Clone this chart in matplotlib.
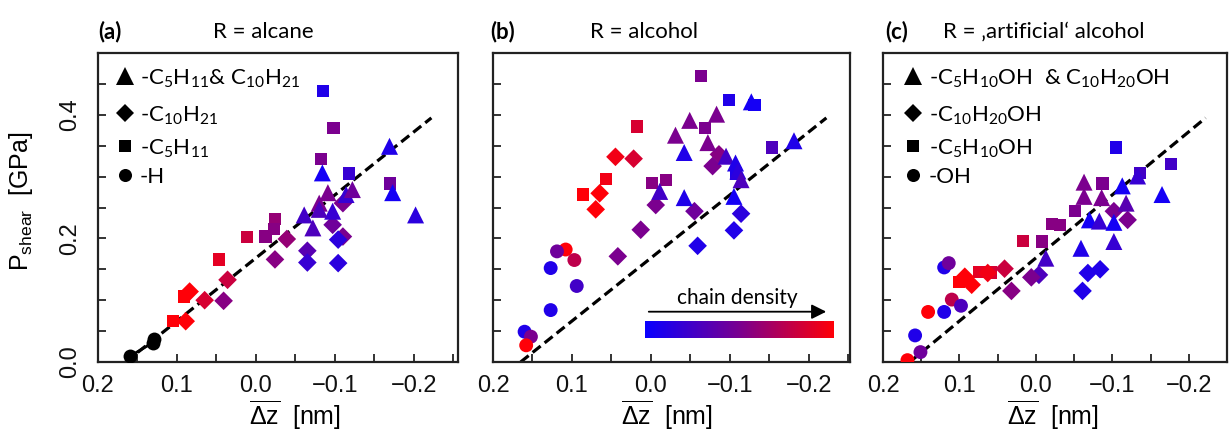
import numpy as np
import matplotlib
matplotlib.use('Agg')
import matplotlib.pyplot as plt
from matplotlib.colors import LinearSegmentedColormap

plt.rcParams['font.family'] = ['Liberation Sans', 'DejaVu Sans']
plt.rcParams['mathtext.fontset'] = 'custom'
plt.rcParams['mathtext.rm'] = 'Liberation Sans'
plt.rcParams['mathtext.sf'] = 'Lato'

# ---- data: x = mean dz [nm], y = P_shear [GPa], c = chain density (0 blue .. 1 red)
# panel (a): R = alcane
a_tri_x = [-0.169, -0.084, -0.173, -0.202, -0.061, -0.072, -0.080, -0.091, -0.097, -0.114, -0.122, -0.080]
a_tri_y = [0.349, 0.306, 0.274, 0.238, 0.238, 0.217, 0.257, 0.274, 0.244, 0.271, 0.279, 0.247]
a_tri_c = [0.10, 0.05, 0.05, 0.15, 0.25, 0.30, 0.50, 0.50, 0.20, 0.20, 0.45, 0.30]
a_dia_x = [-0.097, -0.110, -0.104, -0.065, -0.065, -0.104, -0.024, -0.039, 0.036, 0.065, 0.041, 0.089, 0.084, -0.110]
a_dia_y = [0.222, 0.203, 0.198, 0.180, 0.161, 0.160, 0.166, 0.199, 0.133, 0.100, 0.099, 0.066, 0.114, 0.257]
a_dia_c = [0.45, 0.50, 0.15, 0.35, 0.20, 0.15, 0.55, 0.60, 0.80, 0.85, 0.55, 1.00, 1.00, 0.50]
a_sq_x = [-0.085, -0.098, -0.082, -0.118, -0.170, -0.024, -0.023, -0.012, 0.011, 0.047, 0.105, 0.091]
a_sq_y = [0.439, 0.379, 0.328, 0.305, 0.289, 0.231, 0.215, 0.203, 0.202, 0.166, 0.066, 0.106]
a_sq_c = [0.10, 0.50, 0.50, 0.20, 0.45, 0.60, 0.55, 0.55, 0.80, 0.90, 1.00, 1.00]
a_circ_x = [0.160, 0.131, 0.129]
a_circ_y = [0.009, 0.031, 0.038]

# panel (b): R = alcohol
b_tri_x = [-0.127, -0.049, -0.083, -0.031, -0.072, -0.181, -0.042, -0.095, -0.107, -0.110, -0.114, -0.011, -0.042, -0.105]
b_tri_y = [0.421, 0.391, 0.401, 0.367, 0.355, 0.358, 0.339, 0.333, 0.322, 0.309, 0.295, 0.276, 0.266, 0.268]
b_tri_c = [0.05, 0.50, 0.50, 0.50, 0.50, 0.10, 0.10, 0.25, 0.10, 0.15, 0.30, 0.25, 0.10, 0.05]
b_dia_x = [0.045, 0.022, 0.065, 0.070, -0.086, -0.078, -0.006, -0.055, 0.013, -0.114, -0.105, -0.059, 0.042]
b_dia_y = [0.332, 0.329, 0.273, 0.247, 0.336, 0.317, 0.254, 0.244, 0.214, 0.240, 0.213, 0.188, 0.171]
b_dia_c = [0.95, 0.85, 1.00, 1.00, 0.55, 0.50, 0.50, 0.45, 0.50, 0.15, 0.10, 0.10, 0.50]
b_sq_x = [-0.063, -0.099, -0.131, 0.018, -0.068, -0.153, 0.057, 0.086, -0.001, -0.019, -0.108]
b_sq_y = [0.463, 0.424, 0.416, 0.381, 0.379, 0.347, 0.296, 0.271, 0.290, 0.295, 0.305]
b_sq_c = [0.50, 0.10, 0.05, 0.85, 0.50, 0.30, 0.95, 1.00, 0.55, 0.55, 0.10]
b_circ_x = [0.108, 0.119, 0.097, 0.127, 0.094, 0.127, 0.160, 0.152, 0.158]
b_circ_y = [0.182, 0.179, 0.165, 0.152, 0.123, 0.084, 0.049, 0.041, 0.027]
b_circ_c = [1.00, 0.45, 0.75, 0.10, 0.25, 0.10, 0.10, 0.50, 1.00]

# panel (c): R = 'artificial' alcohol
c_tri_x = [-0.063, -0.063, -0.086, -0.113, -0.165, -0.118, -0.133, -0.070, -0.083, -0.102, -0.102, -0.059, -0.013]
c_tri_y = [0.291, 0.268, 0.266, 0.285, 0.271, 0.257, 0.301, 0.230, 0.228, 0.226, 0.195, 0.184, 0.168]
c_tri_c = [0.50, 0.50, 0.50, 0.05, 0.05, 0.35, 0.20, 0.05, 0.20, 0.05, 0.20, 0.10, 0.25]
c_dia_x = [-0.102, -0.120, -0.068, -0.084, -0.061, -0.004, 0.006, 0.041, 0.032, 0.084, 0.093, 0.063]
c_dia_y = [0.244, 0.230, 0.144, 0.150, 0.115, 0.141, 0.137, 0.151, 0.115, 0.125, 0.138, 0.144]
c_dia_c = [0.50, 0.50, 0.10, 0.10, 0.10, 0.30, 0.50, 0.80, 0.55, 1.00, 1.00, 0.95]
c_sq_x = [-0.105, -0.177, -0.136, -0.087, -0.051, -0.032, -0.021, 0.017, -0.008, 0.101, 0.074, 0.059]
c_sq_y = [0.347, 0.320, 0.306, 0.289, 0.244, 0.222, 0.223, 0.196, 0.195, 0.130, 0.146, 0.145]
c_sq_c = [0.10, 0.25, 0.25, 0.50, 0.50, 0.55, 0.55, 0.80, 0.55, 1.00, 0.90, 0.85]
c_circ_x = [0.120, 0.114, 0.110, 0.120, 0.098, 0.141, 0.158, 0.151, 0.168]
c_circ_y = [0.153, 0.160, 0.101, 0.081, 0.091, 0.081, 0.043, 0.016, 0.003]
c_circ_c = [0.10, 0.45, 0.75, 0.10, 0.30, 1.00, 0.10, 0.45, 1.00]

# dashed guide line (end points)
guide_x = [0.165, -0.222]
guide_y = [0.0, 0.395]

titles = ['R = alcane', 'R = alcohol', 'R = \u201aartificial\u2018 alcohol']
letters = ['(a)', '(b)', '(c)']
legend_a = ['-C$_\\mathsf{5}$H$_\\mathsf{11}$& C$_\\mathsf{10}$H$_\\mathsf{21}$',
            '-C$_\\mathsf{10}$H$_\\mathsf{21}$',
            '-C$_\\mathsf{5}$H$_\\mathsf{11}$',
            '-H']
legend_c = ['-C$_\\mathsf{5}$H$_\\mathsf{10}$OH  & C$_\\mathsf{10}$H$_\\mathsf{20}$OH',
            '-C$_\\mathsf{10}$H$_\\mathsf{20}$OH',
            '-C$_\\mathsf{5}$H$_\\mathsf{10}$OH',
            '-OH']

cmap = LinearSegmentedColormap.from_list('density', ['#0a00ff', '#7a0090', '#ff0008'])

W, H = 1229, 445
fig = plt.figure(figsize=(W / 100, H / 100), dpi=100)

TOP, BOT = 53, 362


def axes_px(left, right):
    return fig.add_axes([left / W, 1 - BOT / H, (right - left) / W, (BOT - TOP) / H])


def style_axes(ax, xmin_right, show_ylab):
    ax.set_xlim(0.2, xmin_right)
    ax.set_ylim(0, 0.5)
    ax.set_xticks([0.2, 0.1, 0.0, -0.1, -0.2])
    ax.set_xticks(np.arange(-0.25, 0.201, 0.05), minor=True)
    ax.set_yticks([0.0, 0.2, 0.4])
    ax.set_yticks(np.arange(0, 0.5, 0.05), minor=True)
    ax.xaxis.set_major_formatter(plt.FuncFormatter(lambda v, p: f'{v:.1f}'.replace('-', '\u2212')))
    ax.yaxis.set_major_formatter(plt.FuncFormatter(lambda v, p: f'{v:.1f}'))
    ax.tick_params(which='both', direction='in', length=6, width=1.2, top=False, right=False,
                   labelsize=17, colors='#111111')
    ax.tick_params(axis='x', pad=9)
    ax.tick_params(axis='y', pad=12, labelrotation=90, labelleft=show_ylab)
    plt.setp(ax.get_yticklabels(), va='center')
    for s in ax.spines.values():
        s.set_linewidth(1.6)
        s.set_color('#222222')
    ax.set_xlabel('$\\overline{\\mathrm{\\Delta z}}$  [nm]', fontsize=18)


def draw_points(ax, xs, ys, cs, marker, size, black=False):
    if black:
        ax.scatter(xs, ys, color='black', marker=marker, s=size, linewidths=0, zorder=3)
    else:
        ax.scatter(xs, ys, c=cs, cmap=cmap, vmin=0, vmax=1, marker=marker, s=size,
                   linewidths=0, zorder=3)


def draw_legend(ax, left_px, marker_px, text_px, labels):
    rows_m = [76, 113, 146, 175]
    rows_t = [84, 121, 154, 183]
    specs = [('^', 13), ('D', 9.5), ('s', 8.6), ('o', 9.4)]
    width = ax.get_position().width * W
    for (mk, ms), ym, yt, lab in zip(specs, rows_m, rows_t, labels):
        ax.plot([(marker_px - left_px) / width], [(BOT - ym) / (BOT - TOP)], mk, color='black',
                ms=ms, mew=0, transform=ax.transAxes, clip_on=False)
        ax.text((text_px - left_px) / width, (BOT - yt) / (BOT - TOP), lab, transform=ax.transAxes,
                fontsize=16, family=['Lato', 'DejaVu Sans'], va='baseline', ha='left')


ax_a = axes_px(98, 458)
ax_b = axes_px(493, 850)
ax_c = axes_px(883, 1227)

style_axes(ax_a, -0.2557, True)
style_axes(ax_b, -0.2519, False)
style_axes(ax_c, -0.2354, False)

ax_a.set_ylabel('P$_{\\rm shear}$  [GPa]', fontsize=18)
ax_a.yaxis.set_label_coords(-0.175, 0.52)
ax_a.xaxis.set_label_coords(0.547, -0.12)
ax_b.xaxis.set_label_coords(0.487, -0.12)
ax_c.xaxis.set_label_coords(0.494, -0.12)

for ax in (ax_a, ax_b, ax_c):
    ax.plot(guide_x, guide_y, color='black', lw=2.3, dashes=(3.2, 1.6), zorder=2)

SQ, DI, TR, CI = 78, 90, 150, 100

# panel (a)
draw_points(ax_a, a_sq_x, a_sq_y, a_sq_c, 's', SQ)
draw_points(ax_a, a_dia_x, a_dia_y, a_dia_c, 'D', DI)
draw_points(ax_a, a_tri_x, a_tri_y, a_tri_c, '^', TR)
draw_points(ax_a, a_circ_x, a_circ_y, None, 'o', CI, black=True)
ax_a.plot(a_circ_x, a_circ_y, color='black', lw=2, zorder=3)

# panel (b)
draw_points(ax_b, b_sq_x, b_sq_y, b_sq_c, 's', SQ)
draw_points(ax_b, b_dia_x, b_dia_y, b_dia_c, 'D', DI)
draw_points(ax_b, b_tri_x, b_tri_y, b_tri_c, '^', TR)
draw_points(ax_b, b_circ_x, b_circ_y, b_circ_c, 'o', CI)

# panel (c)
draw_points(ax_c, c_sq_x, c_sq_y, c_sq_c, 's', SQ)
draw_points(ax_c, c_dia_x, c_dia_y, c_dia_c, 'D', DI)
draw_points(ax_c, c_tri_x, c_tri_y, c_tri_c, '^', TR)
draw_points(ax_c, c_circ_x, c_circ_y, c_circ_c, 'o', CI)

draw_legend(ax_a, 98, 125, 140, legend_a)
draw_legend(ax_c, 883, 913, 929, legend_c)

# chain density bar in (b)
bar_ax = fig.add_axes([645 / W, 1 - 338 / H, (834 - 645) / W, (338 - 321) / H])
bar_ax.imshow(np.linspace(0, 1, 256)[None, :], cmap=cmap, aspect='auto')
bar_ax.set_axis_off()
bw = 850 - 493
ax_b.annotate('', xy=((829 - 493) / bw, (BOT - 311.7) / (BOT - TOP)),
              xytext=((646 - 493) / bw, (BOT - 311.7) / (BOT - TOP)),
              xycoords='axes fraction', textcoords='axes fraction',
              arrowprops=dict(arrowstyle='-|>', color='black', lw=1.3, mutation_scale=22))
ax_b.text((737.5 - 493) / bw, (BOT - 304) / (BOT - TOP), 'chain density', transform=ax_b.transAxes,
          fontsize=15, family=['Lato', 'DejaVu Sans'], ha='center', va='baseline')

# panel titles
for lx, tx, let, tit in zip([98, 490, 885], [213, 590, 943], letters, titles):
    fig.text(lx / W, 1 - 38 / H, let, fontsize=16, fontweight='bold', family=['Lato', 'DejaVu Sans'],
             ha='left', va='baseline')
    fig.text(tx / W, 1 - 38 / H, tit, fontsize=16, family=['Lato', 'DejaVu Sans'],
             ha='left', va='baseline')

fig.savefig('out.png', dpi=100)
